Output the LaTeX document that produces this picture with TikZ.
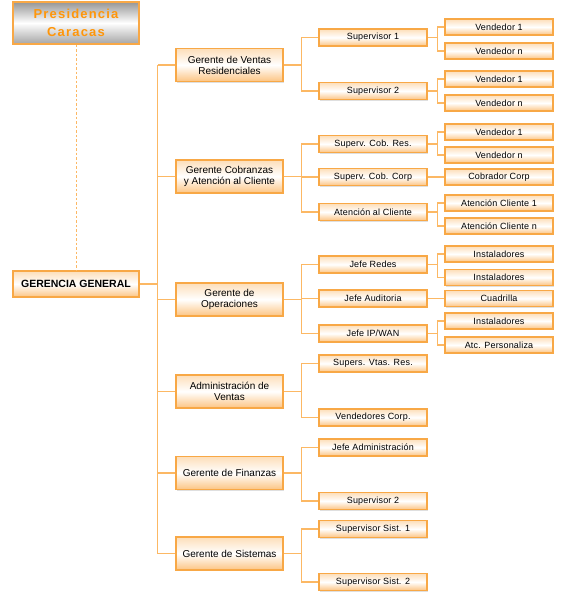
\documentclass[tikz,border=0pt]{standalone}
\usepackage{fontspec}
\setmainfont{Liberation Sans}
\usetikzlibrary{shadows}
\definecolor{bord}{RGB}{248,168,70}
\definecolor{btop}{RGB}{253,222,185}
\definecolor{bbot}{RGB}{252,196,130}
\definecolor{lnc}{RGB}{252,184,100}
\definecolor{presor}{RGB}{255,150,10}
\definecolor{gtop}{RGB}{150,150,150}
\definecolor{gbot}{RGB}{165,165,165}
\tikzset{
  obox/.style={draw=bord, line width=1.1pt, top color=btop, bottom color=bbot, middle color=white,
    drop shadow={shadow xshift=1pt, shadow yshift=-1pt, opacity=0.25, fill=black!50},
    inner sep=0pt, align=center},
  lvtwo/.style={obox, minimum width=107pt, minimum height=33pt, font=\fontsize{10}{11}\selectfont},
  lvthree/.style={obox, minimum width=108pt, minimum height=17pt, font=\fontsize{9}{10}\selectfont\addfontfeature{LetterSpace=2}},
  lvfour/.style={obox, minimum width=108pt, minimum height=16pt, font=\fontsize{9}{10}\selectfont\addfontfeature{LetterSpace=2}},
  conn/.style={draw=lnc, line width=1.2pt},
}
\begin{document}
\begin{tikzpicture}[x=1pt, y=-1pt]
\useasboundingbox (0,0) rectangle (567,595);
% top boxes
\node[draw=bord, line width=1.2pt, top color=gtop, bottom color=gbot, middle color=white,
      minimum width=126pt, minimum height=42pt, inner sep=0pt, align=center,
      text=presor, font=\fontsize{13}{18}\selectfont\bfseries\addfontfeature{LetterSpace=9}]
      (pres) at (76,23) {Presidencia\\Caracas};
\node[draw=bord, line width=1.4pt, top color=btop, bottom color=bbot, middle color=white,
      drop shadow={shadow xshift=1pt, shadow yshift=-1pt, opacity=0.25, fill=black!50},
      minimum width=126pt, minimum height=26pt, inner sep=0pt,
      font=\fontsize{10.5}{12}\selectfont\bfseries]
      (gg) at (76,284) {GERENCIA GENERAL};
\draw[draw=lnc, line width=0.8pt, dash pattern=on 2.5pt off 2pt] (pres.south) -- (gg.north);

% level 2
\node[lvtwo] (v) at (229.5,65) {Gerente de Ventas\\Residenciales};
\node[lvtwo] (c) at (229.5,176.5) {Gerente Cobranzas\\y Atención al Cliente};
\node[lvtwo] (o) at (229.5,299.5) {Gerente de\\Operaciones};
\node[lvtwo] (a) at (229.5,391.5) {Administración de\\Ventas};
\node[lvtwo] (f) at (229.5,473) {Gerente de Finanzas};
\node[lvtwo] (s) at (229.5,553.5) {Gerente de Sistemas};

% level 3
\node[lvthree] (v1) at (373,37.5) {Supervisor 1};
\node[lvthree] (v2) at (373,91) {Supervisor 2};
\node[lvthree] (c1) at (373,144) {Superv. Cob. Res.};
\node[lvthree] (c2) at (373,177) {Superv. Cob. Corp};
\node[lvthree] (c3) at (373,212) {Atención al Cliente};
\node[lvthree] (o1) at (373,264.5) {Jefe Redes};
\node[lvthree] (o2) at (373,298.5) {Jefe Auditoria};
\node[lvthree] (o3) at (373,333.5) {Jefe IP/WAN};
\node[lvthree] (a1) at (373,363.5) {Supers. Vtas. Res.};
\node[lvthree] (a2) at (373,417.5) {Vendedores Corp.};
\node[lvthree] (f1) at (373,447.5) {Jefe Administración};
\node[lvthree] (f2) at (373,501) {Supervisor 2};
\node[lvthree] (s1) at (373,529) {Supervisor Sist. 1};
\node[lvthree] (s2) at (373,582) {Supervisor Sist. 2};

% level 4
\node[lvfour] (v1a) at (499,27) {Vendedor 1};
\node[lvfour] (v1b) at (499,51) {Vendedor n};
\node[lvfour] (v2a) at (499,79) {Vendedor 1};
\node[lvfour] (v2b) at (499,103) {Vendedor n};
\node[lvfour] (c1a) at (499,132) {Vendedor 1};
\node[lvfour] (c1b) at (499,155) {Vendedor n};
\node[lvfour] (c2a) at (499,177) {Cobrador Corp};
\node[lvfour] (c3a) at (499,203) {Atención Cliente 1};
\node[lvfour] (c3b) at (499,226) {Atención Cliente n};
\node[lvfour] (o1a) at (499,254) {Instaladores};
\node[lvfour] (o1b) at (499,277.5) {Instaladores};
\node[lvfour] (o2a) at (499,298.5) {Cuadrilla};
\node[lvfour] (o3a) at (499,321) {Instaladores};
\node[lvfour] (o3b) at (499,345) {Atc. Personaliza};

% connectors: trunk
\draw[conn] (gg.east) -- ++(18,0) coordinate (tr);
\draw[conn] (tr |- v.west) -- (tr |- s.west);
\foreach \n in {v,c,o,a,f,s} \draw[conn] (tr |- \n.west) -- (\n.west);

% level 2 -> 3
\foreach \p/\k in {v/v1,v/v2,c/c1,c/c2,c/c3,o/o1,o/o2,o/o3,a/a1,a/a2,f/f1,f/f2,s/s1,s/s2}
  \draw[conn] (\p.east) -- ++(18,0) |- (\k.west);

% level 3 -> 4
\foreach \p/\k in {v1/v1a,v1/v1b,v2/v2a,v2/v2b,c1/c1a,c1/c1b,c3/c3a,c3/c3b,o1/o1a,o1/o1b,o3/o3a,o3/o3b}
  \draw[conn] (\p.east) -- ++(10,0) |- (\k.west);
\draw[conn] (c2.east) -- (c2a.west);
\draw[conn] (o2.east) -- (o2a.west);
\end{tikzpicture}
\end{document}
